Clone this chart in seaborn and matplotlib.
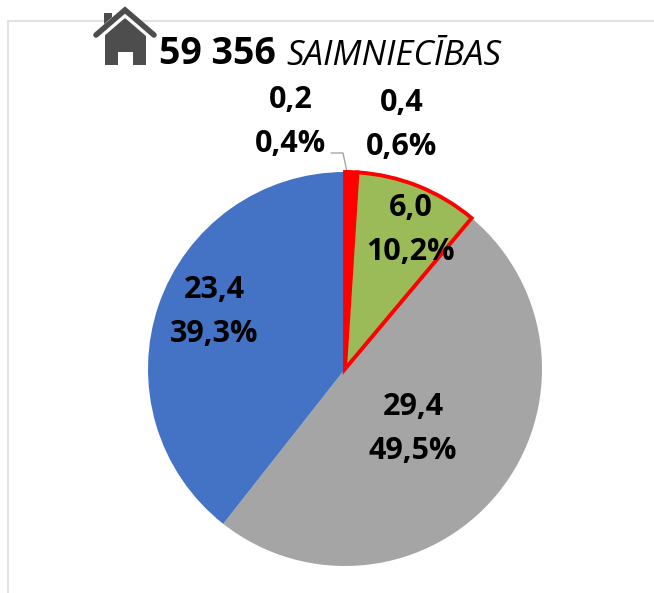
import matplotlib
matplotlib.use("Agg")
import matplotlib.pyplot as plt
from matplotlib.patches import Polygon, Rectangle
import seaborn as sns

# slices clockwise from 12 o'clock
values = [0.2, 0.4, 6.0, 29.4, 23.4]
value_labels = ["0,2", "0,4", "6,0", "29,4", "23,4"]
share_labels = ["0,4%", "0,6%", "10,2%", "49,5%", "39,3%"]
total_label = "59 356"
unit_label = "SAIMNIECĪBAS"

colors = ["#ff0000", "#ff0000", "#9bbb59", "#a5a5a5", "#4472c4"]
edge_colors = ["#ff0000", "#ff0000", "#ff0000", "none", "none"]
edge_widths = [2.8, 2.8, 2.8, 0, 0]

# label centres in pixels of the 654x593 picture
label_pos = [(291, 122), (402, 125), (411, 230), (413, 429), (214, 312)]

sns.set_theme(style="white")
plt.rcParams["font.family"] = ["Open Sans", "DejaVu Sans"]

W, H = 654, 593
fig = plt.figure(figsize=(W / 100, H / 100), dpi=100)
ax = fig.add_axes([0, 0, 1, 1])

ax.pie(values, colors=colors, startangle=90, counterclock=False,
       center=(345, H - 369), radius=197, frame=True)
wedges = [p for p in ax.patches]
for w, ec, lw in zip(wedges, edge_colors, edge_widths):
    w.set_edgecolor(ec)
    w.set_linewidth(lw)
    w.set_joinstyle("miter")
# red outlined slices go on top of the grey and blue ones
for w in wedges[:3]:
    w.set_zorder(3)

ax.set_xlim(0, W)
ax.set_ylim(0, H)
ax.set_aspect("equal")
ax.axis("off")

# chart frame, top and left only
ax.plot([8, 8, W], [0, H - 21, H - 21], color="#e2e2e2", lw=1.5, zorder=0)

# leader line of the smallest slice
ax.plot([331, 343, 347], [H - 153, H - 153, H - 172], color="#a6a6a6", lw=1, zorder=2)

for (x, y), v, s in zip(label_pos, value_labels, share_labels):
    ax.text(x, H - y, v + "\n" + s, ha="center", va="center", fontsize=22,
            fontweight="bold", color="black", linespacing=1.6, zorder=5)

# title
ax.text(159, H - 54, total_label, ha="left", va="center", fontsize=27,
        fontweight="bold", color="black")
ax.text(286, H - 56, unit_label, ha="left", va="center", fontsize=25,
        fontstyle="italic", color="black")

# house icon
house = "#4d4d4d"
ax.add_patch(Polygon([(105, H - 65), (105, H - 31), (125, H - 18), (146, H - 31), (146, H - 65),
                      (133, H - 65), (133, H - 52), (118, H - 52), (118, H - 65)],
                     closed=True, fc=house, ec="none", zorder=4))
ax.add_patch(Rectangle((104, H - 28), 8, 15, fc=house, ec="none", zorder=3))
ax.plot([96, 125, 154], [H - 37, H - 12, H - 37], color="white", lw=6.5,
        solid_joinstyle="miter", zorder=4)
ax.plot([96, 125, 154], [H - 35, H - 10, H - 35], color=house, lw=4,
        solid_joinstyle="miter", zorder=5)

fig.savefig("out.png", dpi=100, facecolor="white")
